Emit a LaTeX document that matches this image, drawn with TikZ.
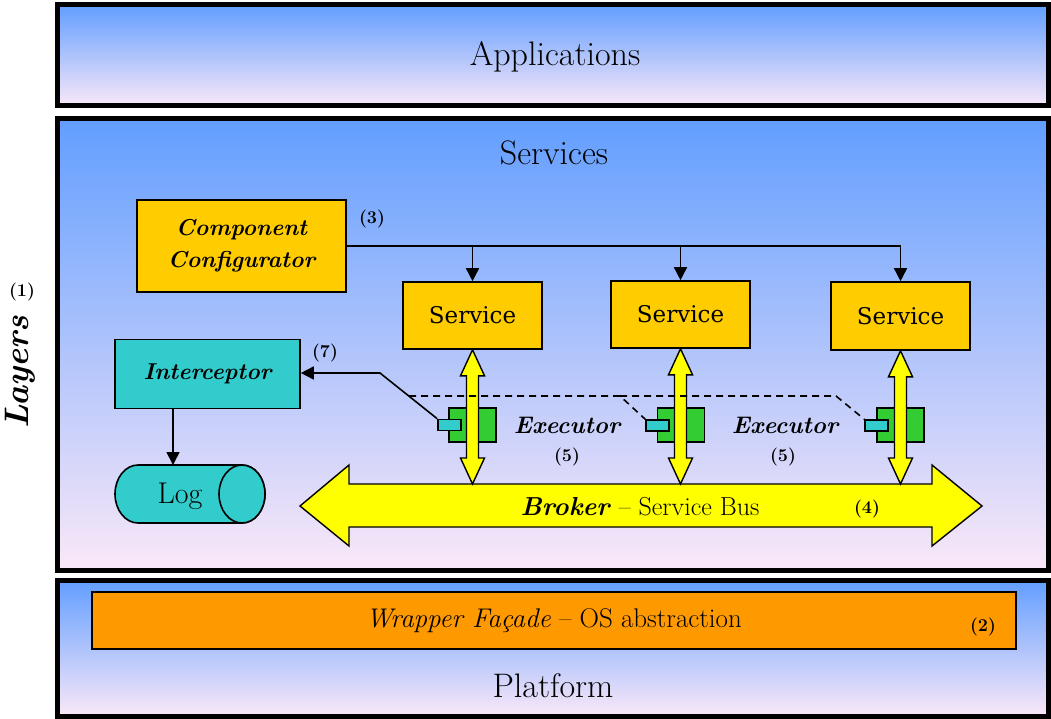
\documentclass[tikz,border=0pt]{standalone}
\usepackage{fontspec}
\newfontfamily\dejaserif{DejaVu Serif}
\usetikzlibrary{arrows.meta,shapes.geometric,calc}
\definecolor{bgtop}{RGB}{98,158,255}
\definecolor{bgbot}{RGB}{250,232,248}
\definecolor{gold}{RGB}{255,204,0}
\definecolor{tealc}{RGB}{51,204,204}
\definecolor{greenc}{RGB}{51,204,51}
\definecolor{yellc}{RGB}{255,255,0}
\definecolor{orngc}{RGB}{255,153,0}
\newcommand\fsz[1]{\fontsize{#1}{#1}\selectfont}
\newcommand\myvarrow[1]{%
  \draw[yarrow] let \p1=(#1.south), \p2=(bustop) in
   (\x1,\y1) -- ++(12,26) -- ++(-6,0) -- (\x1+6pt,\y2+26pt) -- ++(6,0) -- (\x1,\y2)
   -- ++(-12,-26) -- ++(6,0) -- (\x1-6pt,\y1-26pt) -- ++(-6,0) -- cycle;}
\begin{document}
\begin{tikzpicture}[x=1pt,y=-1pt,
  layer/.style={draw=black,line width=5pt,top color=bgtop,bottom color=bgbot,inner sep=0pt},
  box/.style={draw=black,line width=1.6pt,inner sep=0pt,align=center},
  goldbox/.style={box,fill=gold},
  tealbox/.style={box,fill=tealc},
  greenbox/.style={box,fill=greenc},
  yarrow/.style={draw=black,line width=1.4pt,fill=yellc,line join=miter},
  conn/.style={line width=1.6pt,-{Triangle[length=13pt,width=13pt]}},
  plainline/.style={line width=1.6pt},
  dashline/.style={line width=1.6pt,dash pattern=on 7pt off 5pt},
  num/.style={font=\fsz{18}\bfseries,inner sep=0pt},
  bi/.style={font=\fsz{24}\bfseries\itshape,align=center,inner sep=0pt},
  title/.style={font=\fsz{34},inner sep=0pt},
  cyl/.style={draw=black,line width=1.6pt,fill=tealc},
  svc/.style={goldbox,font=\dejaserif\fsz{23},minimum width=139pt,minimum height=67pt}
]
\useasboundingbox (0,0) rectangle (1051,719);
% layers
\node[layer,minimum width=991pt,minimum height=101pt] (apps) at (552.5,55.5) {};
\node[title] (appsT) at (555,57) {Applications};
\node[layer,minimum width=991pt,minimum height=451pt] (servL) at (552.5,344.5) {};
\node[title] (servT) at (554,153) {Services};
\node[layer,minimum width=991pt,minimum height=136pt] (plat) at (552.5,648) {};
\node[title] (platT) at (553,686) {Platform};
% wrapper facade
\node[box,fill=orngc,minimum width=924pt,minimum height=57pt,font=\fsz{27}] (wrap) at (554,620.5) {\textit{Wrapper Façade} -- OS abstraction};
\node[num] (n2) at (983,627) {(2)};
% layers label
\node[bi,rotate=90,font=\fsz{34}\bfseries\itshape] (layersT) at (20,372) {Layers};
\node[num] (n1) at (22,292) {(1)};
% component configurator
\node[goldbox,minimum width=209pt,minimum height=92pt,font=\fsz{23}\bfseries\itshape] (cc) at (241.5,246) {Component\\[9pt]Configurator};
\node[num] (n3) at (372,219) {(3)};
% services
\node[svc] (s1) at (472.5,315.5) {Service};
\node[svc] (s2) at (680.5,314.5) {Service};
\node[svc,minimum height=68pt] (s3) at (900.5,316) {Service};
\coordinate (bustop) at (0,484);
% configurator connectors
\coordinate (j1) at (s1.north |- cc.east);
\coordinate (j2) at (s2.north |- cc.east);
\coordinate (j3) at (s3.north |- cc.east);
\draw[plainline] (cc.east) -- (j3);
\draw[conn] (j1) -- (s1.north);
\draw[conn] (j2) -- (s2.north);
\draw[conn] (j3) -- (s3.north);
% interceptor and log
\node[tealbox,minimum width=185pt,minimum height=69pt,font=\fsz{23}\bfseries\itshape] (int) at (207.5,374) {Interceptor};
\node[num] (n7) at (325,353) {(7)};
\draw[cyl] (242,465) -- (138,465) arc[start angle=-90,end angle=-270,x radius=23,y radius=29]
   -- (242,523) arc[start angle=90,end angle=-90,x radius=23,y radius=29] -- cycle;
\draw[cyl] (242,494) ellipse[x radius=23,y radius=29];
\node[inner sep=0pt,font=\fsz{30}] (log) at (180,496) {Log};
\coordinate (logtop) at (173,465);
\draw[conn] (int.south -| logtop) -- (logtop);
% executors
\node[greenbox,minimum width=47pt,minimum height=34pt] (ex1g) at (472.5,425) {};
\node[greenbox,minimum width=47pt,minimum height=34pt] (ex2g) at (681,425) {};
\node[greenbox,minimum width=47pt,minimum height=34pt] (ex3g) at (900.5,425) {};
\node[tealbox,minimum width=23pt,minimum height=11pt] (ex1t) at (449.5,425) {};
\node[tealbox,minimum width=23pt,minimum height=11pt] (ex2t) at (657.5,425.5) {};
\node[tealbox,minimum width=23pt,minimum height=11pt] (ex3t) at (876.5,425.5) {};
% bus
\draw[yarrow] (300,506) -- (349,465) -- (349,484) -- (932,484) -- (932,465) -- (982,506)
   -- (932,546) -- (932,527) -- (349,527) -- (349,546) -- cycle;
\node[inner sep=0pt,font=\fsz{26}] (busT) at (640,507) {\textbf{\textit{Broker}} -- Service Bus};
\node[num] (n4) at (867,509) {(4)};
% vertical arrows
\myvarrow{s1}
\myvarrow{s2}
\myvarrow{s3}
% interceptor line
\coordinate (bend) at (380,373);
\draw[conn] (ex1t.north west) -- (bend) -- (int.east |- bend);
\coordinate (d0) at (409,396);
\coordinate (d1) at (620,396);
\coordinate (d2) at (836,396);
\draw[dashline] (d0) -- (d1) -- (ex2t.north west);
\draw[dashline] (d1) -- (d2) -- (ex3t.north west);
% executor labels
\node[bi] (exL1) at (567,425) {Executor};
\node[bi] (exL2) at (785,425) {Executor};
\node[num] (n5a) at (567,457) {(5)};
\node[num] (n5b) at (783,457) {(5)};
\end{tikzpicture}
\end{document}
